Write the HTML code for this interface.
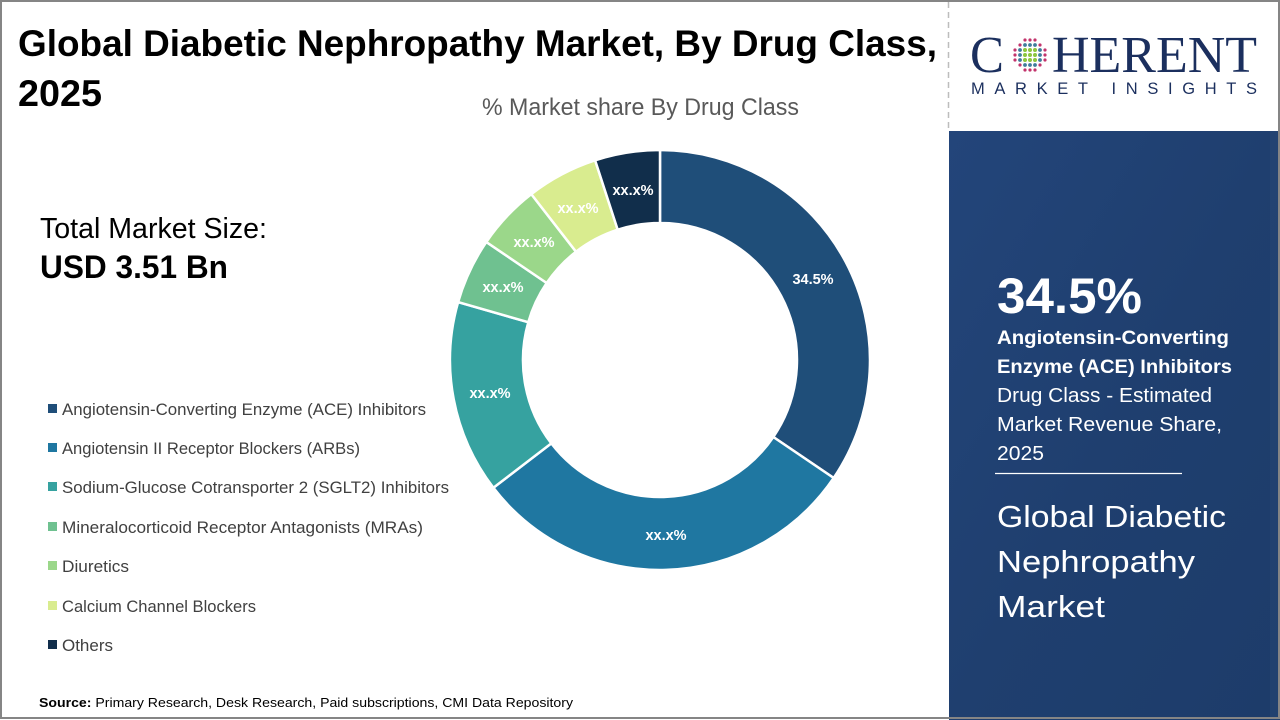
<!DOCTYPE html>
<html>
<head>
<meta charset="utf-8">
<style>
  html,body{margin:0;padding:0;background:#fff;}
  body{width:1280px;height:720px;overflow:hidden;}
  svg{display:block;}
  .s{font-family:"Liberation Sans",Arial,sans-serif;}
  .sf{font-family:"Liberation Serif","Times New Roman",serif;}
</style>
</head>
<body>
<svg width="1280" height="720" viewBox="0 0 1280 720" xmlns="http://www.w3.org/2000/svg">
  <defs>
    <linearGradient id="pg" x1="0" y1="0" x2="1" y2="1">
      <stop offset="0" stop-color="#23457a"/>
      <stop offset="0.5" stop-color="#1f3f6f"/>
      <stop offset="1" stop-color="#1d3c6a"/>
    </linearGradient>
  </defs>
  <rect x="0" y="0" width="1280" height="720" fill="#ffffff"/>

  <!-- right panel -->
  <rect x="949" y="131" width="331" height="589" fill="url(#pg)"/>
  <rect x="1270" y="131" width="10" height="589" fill="#2a4a78" opacity="0.35"/>

  <!-- dashed divider -->
  <line x1="948.5" y1="2" x2="948.5" y2="131" stroke="#bdbdbd" stroke-width="1.5" stroke-dasharray="6 4"/>

  <!-- outer border -->
  <rect x="1" y="1" width="1278" height="717" fill="none" stroke="#858585" stroke-width="2"/>

  <g class="s">
  <!-- Title -->
  <text x="18" y="56" font-size="37.5" font-weight="bold" fill="#000" textLength="919" lengthAdjust="spacingAndGlyphs">Global Diabetic Nephropathy Market, By Drug Class,</text>
  <text x="18" y="106" font-size="37.5" font-weight="bold" fill="#000" textLength="84" lengthAdjust="spacingAndGlyphs">2025</text>

  <!-- chart subtitle -->
  <text x="482" y="115" font-size="24" fill="#595959" textLength="317" lengthAdjust="spacingAndGlyphs">% Market share By Drug Class</text>

  <!-- Total market size -->
  <text x="40" y="238" font-size="29" fill="#000" textLength="227" lengthAdjust="spacingAndGlyphs">Total Market Size:</text>
  <text x="40" y="278" font-size="32" font-weight="bold" fill="#000" textLength="188" lengthAdjust="spacingAndGlyphs">USD 3.51 Bn</text>
  </g>

  <!-- Donut -->
  <g stroke="#ffffff" stroke-width="2.5" stroke-linejoin="miter">
    <path d="M660,150 A210,210 0 0 1 833.7,478.0 L773.3,437.0 A137,137 0 0 0 660,223 Z" fill="#1f4e79"/>
    <path d="M833.7,478.0 A210,210 0 0 1 493.4,487.8 L551.3,443.4 A137,137 0 0 0 773.3,437.0 Z" fill="#1f77a1"/>
    <path d="M493.4,487.8 A210,210 0 0 1 458.1,302.1 L528.3,322.2 A137,137 0 0 0 551.3,443.4 Z" fill="#36a2a0"/>
    <path d="M458.1,302.1 A210,210 0 0 1 486.3,242.0 L546.7,283.0 A137,137 0 0 0 528.3,322.2 Z" fill="#6fc190"/>
    <path d="M486.3,242.0 A210,210 0 0 1 531.3,194.1 L576.0,251.7 A137,137 0 0 0 546.7,283.0 Z" fill="#9bd78a"/>
    <path d="M531.3,194.1 A210,210 0 0 1 595.1,160.3 L617.7,229.7 A137,137 0 0 0 576.0,251.7 Z" fill="#d9ec8f"/>
    <path d="M595.1,160.3 A210,210 0 0 1 660,150 L660,223 A137,137 0 0 0 617.7,229.7 Z" fill="#112e4b"/>
  </g>
  <g class="s" font-size="14.5" font-weight="bold" fill="#ffffff" text-anchor="middle">
    <text x="813" y="284">34.5%</text>
    <text x="666" y="540">xx.x%</text>
    <text x="490" y="398">xx.x%</text>
    <text x="503" y="292">xx.x%</text>
    <text x="534" y="247">xx.x%</text>
    <text x="578" y="213">xx.x%</text>
    <text x="633" y="195">xx.x%</text>
  </g>

  <!-- Legend -->
  <g>
    <rect x="48" y="404" width="9" height="9" fill="#1f4e79"/>
    <rect x="48" y="443" width="9" height="9" fill="#1f77a1"/>
    <rect x="48" y="482" width="9" height="9" fill="#36a2a0"/>
    <rect x="48" y="522" width="9" height="9" fill="#6fc190"/>
    <rect x="48" y="561" width="9" height="9" fill="#9bd78a"/>
    <rect x="48" y="601" width="9" height="9" fill="#d9ec8f"/>
    <rect x="48" y="640" width="9" height="9" fill="#112e4b"/>
  </g>
  <g class="s" font-size="17" fill="#404040">
    <text x="62" y="415" textLength="364" lengthAdjust="spacingAndGlyphs">Angiotensin-Converting Enzyme (ACE) Inhibitors</text>
    <text x="62" y="454" textLength="298" lengthAdjust="spacingAndGlyphs">Angiotensin II Receptor Blockers (ARBs)</text>
    <text x="62" y="493" textLength="387" lengthAdjust="spacingAndGlyphs">Sodium-Glucose Cotransporter 2 (SGLT2) Inhibitors</text>
    <text x="62" y="533" textLength="361" lengthAdjust="spacingAndGlyphs">Mineralocorticoid Receptor Antagonists (MRAs)</text>
    <text x="62" y="572" textLength="67" lengthAdjust="spacingAndGlyphs">Diuretics</text>
    <text x="62" y="612" textLength="194" lengthAdjust="spacingAndGlyphs">Calcium Channel Blockers</text>
    <text x="62" y="651" textLength="51" lengthAdjust="spacingAndGlyphs">Others</text>
  </g>

  <!-- Source -->
  <text class="s" x="39" y="707" font-size="13" fill="#000" textLength="534" lengthAdjust="spacingAndGlyphs"><tspan font-weight="bold">Source:</tspan> Primary Research, Desk Research, Paid subscriptions, CMI Data Repository</text>

  <!-- Logo -->
  <g fill="#1b2f5e">
    <text class="sf" x="970" y="72" font-size="52" textLength="34" lengthAdjust="spacingAndGlyphs">C</text>
    <text class="sf" x="1052" y="72" font-size="52" textLength="205" lengthAdjust="spacingAndGlyphs">HERENT</text>
    <text class="s" x="971" y="94" font-size="16.5" textLength="286" lengthAdjust="spacing">MARKET INSIGHTS</text>
  </g>
  <g>
    <g fill="#8cc63e">
      <circle cx="1025" cy="50" r="2"/><circle cx="1030" cy="50" r="2"/><circle cx="1035" cy="50" r="2"/>
      <circle cx="1025" cy="55" r="2"/><circle cx="1030" cy="55" r="2"/><circle cx="1035" cy="55" r="2"/>
      <circle cx="1025" cy="60" r="2"/><circle cx="1030" cy="60" r="2"/><circle cx="1035" cy="60" r="2"/>
    </g>
    <g fill="#3f7c9c">
      <circle cx="1020" cy="55" r="1.9"/><circle cx="1040" cy="55" r="1.9"/><circle cx="1030" cy="45" r="1.9"/><circle cx="1030" cy="65" r="1.9"/>
      <circle cx="1020" cy="50" r="1.9"/><circle cx="1020" cy="60" r="1.9"/><circle cx="1040" cy="50" r="1.9"/><circle cx="1040" cy="60" r="1.9"/>
      <circle cx="1025" cy="45" r="1.9"/><circle cx="1035" cy="45" r="1.9"/><circle cx="1025" cy="65" r="1.9"/><circle cx="1035" cy="65" r="1.9"/>
    </g>
    <g fill="#c2346c">
      <circle cx="1015" cy="55" r="1.6"/><circle cx="1045" cy="55" r="1.6"/><circle cx="1030" cy="40" r="1.6"/><circle cx="1030" cy="70" r="1.6"/>
      <circle cx="1015" cy="50" r="1.6"/><circle cx="1015" cy="60" r="1.6"/><circle cx="1045" cy="50" r="1.6"/><circle cx="1045" cy="60" r="1.6"/>
      <circle cx="1025" cy="40" r="1.6"/><circle cx="1035" cy="40" r="1.6"/><circle cx="1025" cy="70" r="1.6"/><circle cx="1035" cy="70" r="1.6"/>
      <circle cx="1020" cy="45" r="1.6"/><circle cx="1040" cy="45" r="1.6"/><circle cx="1020" cy="65" r="1.6"/><circle cx="1040" cy="65" r="1.6"/>
    </g>
  </g>

  <!-- Right panel text -->
  <g class="s" fill="#ffffff">
    <text x="997" y="313" font-size="50" font-weight="bold" textLength="145" lengthAdjust="spacingAndGlyphs">34.5%</text>
    <text x="997" y="344" font-size="19.5" font-weight="bold" textLength="232" lengthAdjust="spacingAndGlyphs">Angiotensin-Converting</text>
    <text x="997" y="373" font-size="19.5" font-weight="bold" textLength="235" lengthAdjust="spacingAndGlyphs">Enzyme (ACE) Inhibitors</text>
    <text x="997" y="402" font-size="20" textLength="215" lengthAdjust="spacingAndGlyphs">Drug Class - Estimated</text>
    <text x="997" y="431" font-size="20" textLength="225" lengthAdjust="spacingAndGlyphs">Market Revenue Share,</text>
    <text x="997" y="460" font-size="20" textLength="47" lengthAdjust="spacingAndGlyphs">2025</text>
    <text x="997" y="527" font-size="31" textLength="229" lengthAdjust="spacingAndGlyphs">Global Diabetic</text>
    <text x="997" y="572" font-size="31" textLength="198" lengthAdjust="spacingAndGlyphs">Nephropathy</text>
    <text x="997" y="617" font-size="31" textLength="108" lengthAdjust="spacingAndGlyphs">Market</text>
  </g>
  <line x1="995" y1="473.5" x2="1182" y2="473.5" stroke="#ffffff" stroke-width="1.2"/>
</svg>
</body>
</html>
